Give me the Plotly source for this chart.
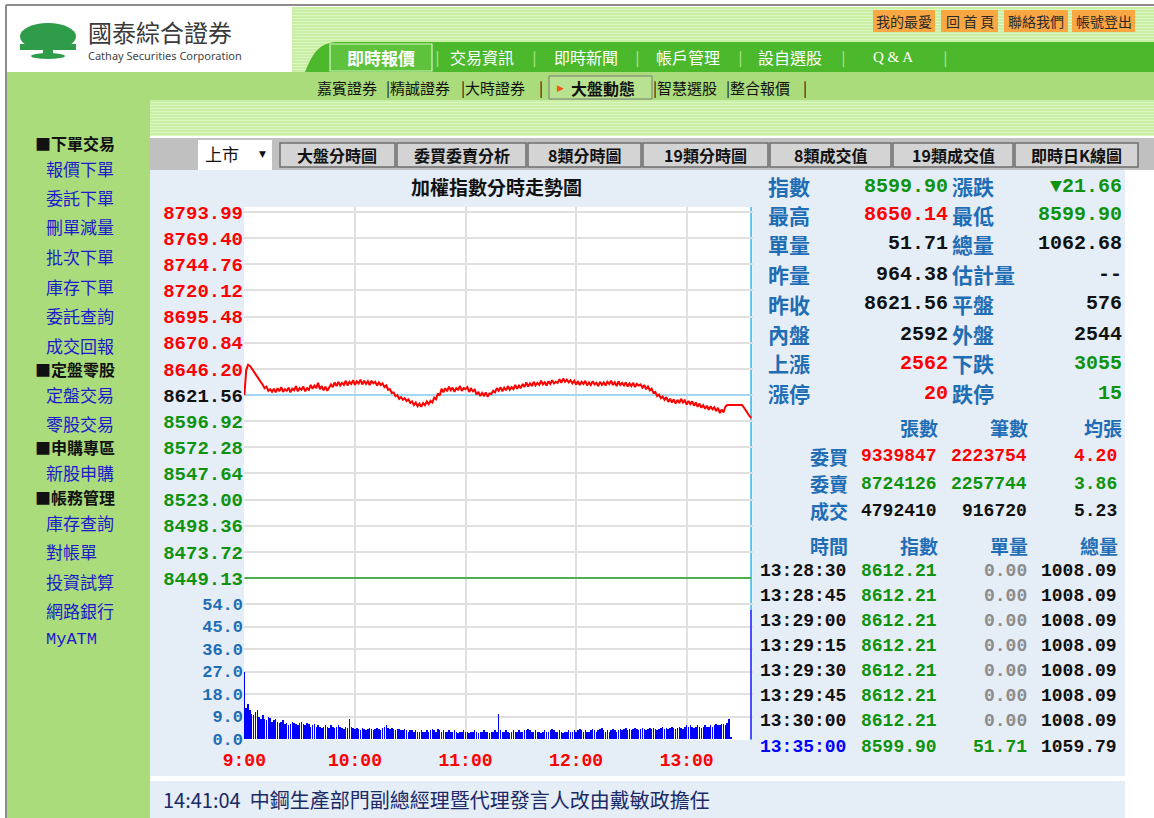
import plotly.graph_objects as go

W, H = 1154, 818

# ------------------------------------------------------------------ data
price_ticks = [8793.99, 8769.40, 8744.76, 8720.12, 8695.48, 8670.84, 8646.20,
               8621.56, 8596.92, 8572.28, 8547.64, 8523.00, 8498.36, 8473.72, 8449.13]
prev_close = 8621.56
vol_ticks = [0, 9, 18, 27, 36, 45, 54]
hour_ticks = [0, 60, 120, 180, 240]
hour_labels = ["9:00", "10:00", "11:00", "12:00", "13:00"]

# index value per minute from 9:00 (minute 0) to 13:35 (minute 275)
price = [
    8621.6, 8645.0, 8650.1, 8649.0, 8646.5, 8644.0, 8641.5, 8639.5, 8637.0, 8634.5, 8631.0, 8628.0, 8629.5, 8625.5, 8627.0, 8624.5,
    8627.5, 8624.0, 8628.0, 8625.0, 8629.0, 8624.5, 8627.0, 8625.5, 8628.5, 8624.0, 8627.5, 8626.0, 8630.0, 8625.0, 8628.0, 8626.5, 8629.5, 8625.0, 8628.0, 8626.5,
    8631.0, 8627.5, 8630.5, 8628.0, 8633.0, 8627.0, 8630.0, 8626.0, 8629.5, 8625.5, 8628.0, 8631.5,
    8629.0, 8633.5, 8630.0, 8634.0, 8630.5, 8633.0, 8631.0, 8635.0, 8630.5, 8634.0, 8632.0, 8635.5, 8631.0, 8634.5, 8632.5, 8636.0, 8631.5, 8635.0, 8632.0, 8634.5,
    8631.0, 8635.0, 8632.5, 8634.0, 8630.5, 8633.5, 8631.0, 8632.5,
    8629.0, 8630.5, 8626.5, 8627.0, 8623.5, 8624.0, 8620.5,
    8621.5, 8618.0, 8619.5, 8617.0, 8618.5, 8616.0, 8617.5, 8614.0, 8615.5, 8612.0, 8614.5, 8611.0, 8613.5,
    8610.5, 8614.0, 8612.0, 8615.5, 8613.0, 8616.0, 8614.5,
    8619.0, 8617.5, 8623.0, 8621.0, 8627.5, 8624.0,
    8628.0, 8625.0, 8629.5, 8626.0, 8628.5, 8624.5, 8628.0, 8626.5, 8630.0, 8625.5, 8628.0, 8627.0, 8629.0, 8624.5, 8627.5, 8625.0, 8626.5,
    8622.0, 8624.5, 8620.5, 8623.5, 8621.0, 8624.0, 8620.0, 8623.0, 8622.5, 8625.5,
    8624.0, 8628.0, 8625.5, 8629.0, 8625.0, 8628.5, 8626.0, 8630.0, 8626.5, 8629.0, 8627.0, 8631.0, 8627.5, 8630.5, 8628.0,
    8632.0, 8629.0, 8633.5, 8629.5, 8632.5, 8630.0, 8634.0, 8630.5, 8633.0, 8631.0, 8635.0, 8631.5, 8633.5, 8630.5, 8634.5, 8632.0, 8635.5, 8632.5, 8634.0, 8633.0,
    8636.5, 8633.0, 8637.0, 8634.0, 8636.0, 8633.5, 8635.5, 8632.5,
    8635.0, 8631.5, 8634.5, 8631.0, 8634.0, 8632.0, 8635.0, 8630.5, 8633.5, 8631.0, 8634.5, 8631.5, 8633.0, 8630.0, 8634.0, 8631.0, 8633.5, 8630.5, 8634.0,
    8632.0, 8635.0, 8631.0, 8633.5, 8630.0, 8634.5, 8631.0, 8633.0, 8630.5, 8633.5, 8629.5, 8632.5, 8630.0, 8633.0, 8629.0, 8632.0, 8630.5, 8631.5,
    8628.5, 8631.0, 8627.0, 8629.5, 8626.0, 8627.5, 8623.5,
    8624.5, 8620.5, 8622.0, 8618.5, 8620.0, 8617.0,
    8619.5, 8615.0, 8618.0, 8614.5, 8617.5, 8613.5, 8617.0, 8614.0, 8618.0, 8614.5, 8616.5, 8612.5, 8616.0, 8613.0, 8615.5, 8611.5, 8614.5,
    8610.5, 8613.5, 8609.5, 8612.0, 8608.5, 8611.5, 8607.5, 8611.0, 8608.0, 8610.0, 8606.5, 8609.5, 8604.5, 8608.0, 8605.0,
    8610.5,
    8612.21, 8612.21, 8612.21, 8612.21, 8612.21, 8612.21, 8612.21, 8612.21, 8612.21,
    8610.0, 8607.0, 8604.5, 8602.0, 8599.9,
]

# volume per minute from 9:00 to 13:24, plus the 13:35 closing bar
volume = [
    27.0, 12.5, 14.0, 11.5, 10.0, 9.5, 11.0, 11.5, 9.0, 8.0,
    9.5, 8.0, 7.5, 9.0, 8.5, 7.0, 7.5, 8.0, 7.0, 6.5,
    7.0, 7.5, 6.0, 6.5, 5.5, 6.0, 7.0, 6.5, 6.0, 5.5,
    6.5, 7.0, 6.0, 5.5, 6.5, 6.0, 5.0, 5.5, 6.0, 5.0,
    5.5, 5.0, 4.5, 5.0, 5.5, 5.0, 4.5, 5.5, 5.0, 4.5,
    5.0, 5.5, 5.0, 4.5, 4.0, 5.0, 4.5, 8.0, 5.0, 4.5,
    4.0, 4.5, 4.0, 3.5, 4.5, 4.0, 3.5, 4.0, 4.5, 4.0,
    3.5, 4.0, 4.5, 4.0, 3.5, 4.5, 5.0, 5.5, 4.5, 4.0,
    4.5, 4.0, 3.5, 4.0, 4.0, 3.5, 3.5, 4.0, 3.5, 3.0,
    3.5, 3.5, 3.0, 3.5, 3.0, 3.0, 3.5, 3.0, 3.0, 3.5,
    3.0, 3.5, 4.0, 3.5, 3.0, 4.0, 3.5, 3.0, 3.5, 3.0,
    3.0, 3.5, 3.0, 3.0, 3.5, 3.0, 2.5, 3.0, 3.0, 3.5,
    3.0, 3.0, 2.5, 3.0, 3.0, 3.5, 3.0, 2.5, 3.0, 3.0,
    3.5, 3.0, 3.0, 2.5, 3.0, 3.0, 3.5, 3.0, 10.0, 3.5,
    3.0, 3.0, 3.5, 3.0, 2.5, 3.0, 3.5, 3.0, 3.0, 3.5,
    3.0, 3.0, 3.5, 3.5, 4.0, 3.5, 3.0, 3.0, 3.5, 3.0,
    3.0, 2.5, 3.0, 3.5, 3.0, 3.0, 3.5, 4.0, 3.5, 3.0,
    3.0, 3.5, 3.0, 2.5, 3.0, 3.0, 3.5, 3.0, 3.0, 3.5,
    3.0, 3.5, 4.0, 3.5, 3.0, 3.5, 3.0, 3.0, 3.5, 4.0,
    3.5, 3.0, 3.5, 4.0, 4.5, 3.5, 3.0, 3.5, 3.0, 3.5,
    4.0, 3.5, 3.0, 3.5, 4.0, 3.5, 4.0, 4.5, 3.5, 4.0,
    3.5, 4.0, 4.5, 4.0, 3.5, 4.0, 4.5, 4.0, 3.5, 4.0,
    4.5, 4.0, 4.5, 4.0, 3.5, 4.0, 4.5, 5.0, 4.0, 4.5,
    4.0, 4.5, 5.0, 4.5, 4.0, 4.5, 5.0, 4.5, 4.0, 5.0,
    5.5, 5.0, 5.5, 5.0, 4.5, 5.0, 5.5, 5.0, 4.5, 5.0,
    5.5, 5.0, 5.0, 5.5, 5.0, 5.5, 6.0, 5.5, 5.5, 6.0,
    6.0, 5.5, 6.5, 8.0, 1.0,
]
last_minute = 275      # 13:35
last_volume = 51.71

quote_left = [("指數", "8599.90", "g"), ("最高", "8650.14", "r"), ("單量", "51.71", "k"),
              ("昨量", "964.38", "k"), ("昨收", "8621.56", "k"), ("內盤", "2592", "k"),
              ("上漲", "2562", "r"), ("漲停", "20", "r")]
quote_right = [("漲跌", "▼21.66", "g"), ("最低", "8599.90", "g"), ("總量", "1062.68", "k"),
               ("估計量", "--", "k"), ("平盤", "576", "k"), ("外盤", "2544", "k"),
               ("下跌", "3055", "g"), ("跌停", "15", "g")]
order_header = ["張數", "筆數", "均張"]
order_rows = [("委買", "9339847", "2223754", "4.20", "r"),
              ("委賣", "8724126", "2257744", "3.86", "g"),
              ("成交", "4792410", "916720", "5.23", "k")]
tick_header = ["時間", "指數", "單量", "總量"]
tick_rows = [("13:28:30", "8612.21", "0.00", "1008.09"),
             ("13:28:45", "8612.21", "0.00", "1008.09"),
             ("13:29:00", "8612.21", "0.00", "1008.09"),
             ("13:29:15", "8612.21", "0.00", "1008.09"),
             ("13:29:30", "8612.21", "0.00", "1008.09"),
             ("13:29:45", "8612.21", "0.00", "1008.09"),
             ("13:30:00", "8612.21", "0.00", "1008.09"),
             ("13:35:00", "8599.90", "51.71", "1059.79")]

sidebar = [("■下單交易", True), ("報價下單", False), ("委託下單", False), ("刪單減量", False),
           ("批次下單", False), ("庫存下單", False), ("委託查詢", False), ("成交回報", False),
           ("■定盤零股", True), ("定盤交易", False), ("零股交易", False),
           ("■申購專區", True), ("新股申購", False),
           ("■帳務管理", True), ("庫存查詢", False), ("對帳單", False), ("投資試算", False),
           ("網路銀行", False), ("MyATM", False)]
sidebar_y = [143, 168, 197, 227, 256, 286, 315, 345, 369, 394, 423, 447, 472, 497, 522, 551, 581, 610, 639]

nav_items = ["交易資訊", "即時新聞", "帳戶管理", "設自選股", "Q & A"]
chart_tabs = ["大盤分時圖", "委買委賣分析", "8類分時圖", "19類分時圖", "8類成交值", "19類成交值", "即時日K線圖"]
top_links = ["我的最愛", "回首頁", "聯絡我們", "帳號登出"]
news = "14:41:04  中鋼生產部門副總經理暨代理發言人改由戴敏政擔任"

# ------------------------------------------------------------------ style
CJK = "Noto Sans CJK TC"
MONO = "Liberation Mono"
RED, GREEN, BLACK = "#ff0000", "#0f930f", "#111111"
CMAP = {"r": RED, "g": GREEN, "k": BLACK}
LBL = "#1f6db5"
SIDE_BLUE = "#1a1acc"
BAND = "#abdc7b"
NAV = "#4cb82b"
PANEL = "#e5edf6"
GRID = "#e0e0e0"


def px(x):
    return x / W


def py(y):
    return 1 - y / H


shapes = []
ann = []


def rect(x0, y0, x1, y1, fill, line=None, lw=0, layer="below"):
    shapes.append(dict(type="rect", xref="paper", yref="paper",
                       x0=px(x0), x1=px(x1), y0=py(y1), y1=py(y0),
                       fillcolor=fill, line=dict(width=lw, color=line or fill), layer=layer))


def hline(x0, x1, y, color, w=1):
    shapes.append(dict(type="line", xref="paper", yref="paper", x0=px(x0), x1=px(x1),
                       y0=py(y), y1=py(y), line=dict(color=color, width=w), layer="below"))


def T(x, y, s, size=16, color=BLACK, anchor="left", fam=CJK, weight="normal"):
    ann.append(dict(x=px(x), y=py(y), xref="paper", yref="paper", text=s, showarrow=False,
                    xanchor=anchor, yanchor="middle", borderpad=0,
                    font=dict(family=fam, size=size, color=color, weight=weight)))


# ------------------------------------------------------------------ page chrome
rect(292, 7, 1154, 72, "#dcf6c0")
for yy in range(8, 72, 3):
    hline(292, 1154, yy, "#b6e78c", 1)
path = "M {} {} C {} {} {} {} {} {} L {} {} L {} {} Z".format(
    px(305), py(72), px(312), py(55), px(318), py(43), px(336), py(42),
    px(1154), py(42), px(1154), py(72))
shapes.append(dict(type="path", xref="paper", yref="paper", path=path, fillcolor=NAV,
                   line=dict(width=0), layer="below"))
rect(7, 7, 292, 72, "white")
hline(6, 1154, 5, "#8c8c8c", 2)
shapes.append(dict(type="line", xref="paper", yref="paper", x0=px(6), x1=px(6), y0=py(5), y1=py(818),
                   line=dict(color="#8c8c8c", width=2), layer="below"))
# logo tree
shapes.append(dict(type="circle", xref="paper", yref="paper", x0=px(20), x1=px(76), y0=py(50), y1=py(23),
                   fillcolor="#2e9c48", line=dict(width=0), layer="below"))
rect(20, 44, 76, 50, "#2e9c48")
rect(43, 48, 53, 56, "#2e9c48")
shapes.append(dict(type="circle", xref="paper", yref="paper", x0=px(31), x1=px(65), y0=py(59), y1=py(53),
                   fillcolor="#2e9c48", line=dict(width=0), layer="below"))
T(87, 32, "國泰綜合證券", 24, "#3a3a3a")
T(87, 56, "Cathay Securities Corporation", 11, "#444444", fam="Noto Sans")

rect(330, 44, 432, 71, "#5fc23c", "#d6f5c0", 1.2)
T(381, 57, "即時報價", 17, "white", "center", weight="bold")
nav_x = [482, 586, 688, 790, 893]
for s, x in zip(nav_items, nav_x):
    T(x, 57, s, 16 if s != "Q & A" else 15, "white", "center", fam=CJK if s != "Q & A" else "Liberation Serif")
for x in [437, 534, 637, 740, 843, 945]:
    T(x, 57, "|", 16, "#a8e08a", "center", fam="Noto Sans")

link_box = [(873, 935), (941, 998), (1004, 1068), (1072, 1135)]
for s, (a, b) in zip(top_links, link_box):
    rect(a, 10, b, 32, "#f8a743")
    T((a + b) / 2, 21, s if s != "回首頁" else "回 首 頁", 14, "#2a2a2a", "center")

rect(7, 72, 1154, 100, BAND)
rect(7, 100, 150, 818, BAND)
T(316, 87, "嘉賓證券", 15)
T(385, 87, "|精誠證券", 15)
T(460, 87, "|大時證券", 15)
T(538, 87, "|", 15)
rect(549, 76, 652, 99, "#b8e290", "#7a7a7a", 1)
T(560, 88, "▶", 9, "#f05a14", "center", fam="DejaVu Sans")
T(570, 88, "大盤動態", 16, BLACK, weight="bold")
T(652, 87, "|智慧選股", 15)
T(725, 87, "|整合報價", 15)
T(802, 87, "|", 15)

for (s, hdr), y in zip(sidebar, sidebar_y):
    if hdr:
        T(34, y, s, 16, BLACK, weight="bold")
    else:
        T(45, y, s, 17, SIDE_BLUE, fam=CJK if s != "MyATM" else MONO)

rect(150, 100, 1154, 136, "#dcf6c0")
for yy in range(101, 136, 3):
    hline(150, 1154, yy, "#b6e78c", 1)

rect(150, 138, 1154, 170, "#c0c0c0")
rect(198, 140, 272, 170, "white")
T(204, 153, "上市", 17)
T(262, 154, "▼", 9, BLACK, "center", fam="DejaVu Sans")
tab_box = [(280, 395), (397, 526), (528, 641), (643, 768), (770, 891), (893, 1013), (1015, 1138)]
for s, (a, b) in zip(chart_tabs, tab_box):
    rect(a, 143, b, 167, "#d4d4d4", "#6e6e6e", 1.5)
    T((a + b) / 2, 155, s, 16, BLACK, "center", weight="bold")

rect(150, 170, 1125, 776, PANEL)
rect(150, 781, 1125, 818, PANEL)
rect(244, 207, 753, 740, "white")
T(497, 186, "加權指數分時走勢圖", 19, BLACK, "center", weight="bold")
T(162, 799, news, 20, "#1a2a66")

# ------------------------------------------------------------------ quote panel
row_y = [186, 215, 244, 274, 304, 334, 363, 393]
for (l1, v1, c1), (l2, v2, c2), y in zip(quote_left, quote_right, row_y):
    T(767, y, l1, 21, LBL, weight="bold")
    T(949, y, v1, 20, CMAP[c1], "right", fam=MONO, weight="bold")
    T(951, y, l2, 21, LBL, weight="bold")
    T(1123, y, v2, 20, CMAP[c2], "right", fam=MONO, weight="bold")

for s, x in zip(order_header, [939, 1029, 1123]):
    T(x, 427, s, 19, LBL, "right", weight="bold")
for (lab, a, b, c, col), y in zip(order_rows, [456, 484, 511]):
    T(849, y, lab, 19, LBL, "right", weight="bold")
    T(938, y, a, 18, CMAP[col], "right", fam=MONO, weight="bold")
    T(1028, y, b, 18, CMAP[col], "right", fam=MONO, weight="bold")
    T(1118, y, c, 18, CMAP[col], "right", fam=MONO, weight="bold")
for s, x in zip(tick_header, [849, 939, 1029, 1119]):
    T(x, 545, s, 19, LBL, "right", weight="bold")
tick_y = [571, 596, 621, 646, 671, 696, 721, 747]
for i, ((t, p, v, tot), y) in enumerate(zip(tick_rows, tick_y)):
    last = i == len(tick_rows) - 1
    T(759, y, t, 18, "#0000ff" if last else BLACK, fam=MONO, weight="bold")
    T(938, y, p, 18, GREEN, "right", fam=MONO, weight="bold")
    T(1028, y, v, 18, GREEN if last else "#8c8c8c", "right", fam=MONO, weight="bold")
    T(1118, y, tot, 18, BLACK, "right", fam=MONO, weight="bold")

# ------------------------------------------------------------------ chart
fig = go.Figure()
fig.add_trace(go.Scatter(x=list(range(len(price))), y=price, mode="lines",
                         line=dict(color=RED, width=2), xaxis="x", yaxis="y", hoverinfo="skip"))
vx = list(range(len(volume))) + [last_minute]
vy = volume + [last_volume]
vc = ["#0000ff"] * len(volume) + ["#4d4dff"]
fig.add_trace(go.Bar(x=vx, y=vy, width=0.8, marker=dict(color=vc, line=dict(width=0)),
                     xaxis="x2", yaxis="y2", hoverinfo="skip"))

shapes.append(dict(type="line", xref="x", yref="paper", x0=last_minute, x1=last_minute,
                   y0=py(740), y1=py(207), line=dict(color="#55c3f0", width=2), layer="between"))
shapes.append(dict(type="line", xref="x", yref="y", x0=0, x1=last_minute, y0=prev_close, y1=prev_close,
                   line=dict(color="#8fd3f5", width=1.5), layer="between"))
shapes.append(dict(type="line", xref="x", yref="paper", x0=0, x1=last_minute, y0=py(578), y1=py(578),
                   line=dict(color="#4caf50", width=2), layer="above"))


def tick_color(v):
    if v > prev_close:
        return RED
    if v < prev_close:
        return GREEN
    return BLACK


price_text = ['<span style="color:{}">{:.2f}</span>'.format(tick_color(v), v) for v in price_ticks]
xdom = [px(244), px(753)]
xr = [-0.2, 276]

fig.update_layout(
    width=W, height=H, margin=dict(l=0, r=0, t=0, b=0, pad=0, autoexpand=False),
    paper_bgcolor="white", plot_bgcolor="white", showlegend=False,
    bargap=0, shapes=shapes, annotations=ann,
    xaxis=dict(domain=xdom, range=xr, anchor="y", tickvals=hour_ticks[1:], showticklabels=False,
               showgrid=True, gridcolor=GRID, gridwidth=2, zeroline=False, showline=False, ticks=""),
    yaxis=dict(domain=[py(578), py(207)], range=[8449.13, 8798.7], anchor="x",
               tickvals=price_ticks, ticktext=price_text, ticks="",
               tickfont=dict(family=MONO, size=19, color=BLACK, weight="bold"),
               showgrid=True, gridcolor=GRID, gridwidth=2, zeroline=False, showline=False),
    xaxis2=dict(domain=xdom, range=xr, anchor="y2", tickvals=hour_ticks, ticktext=hour_labels,
                tickfont=dict(family=MONO, size=18, color=RED, weight="bold"), ticks="",
                ticklabelstandoff=8,
                showgrid=True, gridcolor=GRID, gridwidth=2, zeroline=False, showline=False),
    yaxis2=dict(domain=[py(739), py(578)], range=[0, 64.4], anchor="x2",
                tickvals=vol_ticks, ticktext=["{:.1f}".format(v) for v in vol_ticks], ticks="",
                tickfont=dict(family=MONO, size=17, color=LBL, weight="bold"),
                showgrid=True, gridcolor=GRID, gridwidth=2, zeroline=False, showline=False),
)

fig.write_html("out.html", config={"displayModeBar": False, "staticPlot": True},
               post_script="document.body.style.margin='0';document.body.style.overflow='hidden';")
